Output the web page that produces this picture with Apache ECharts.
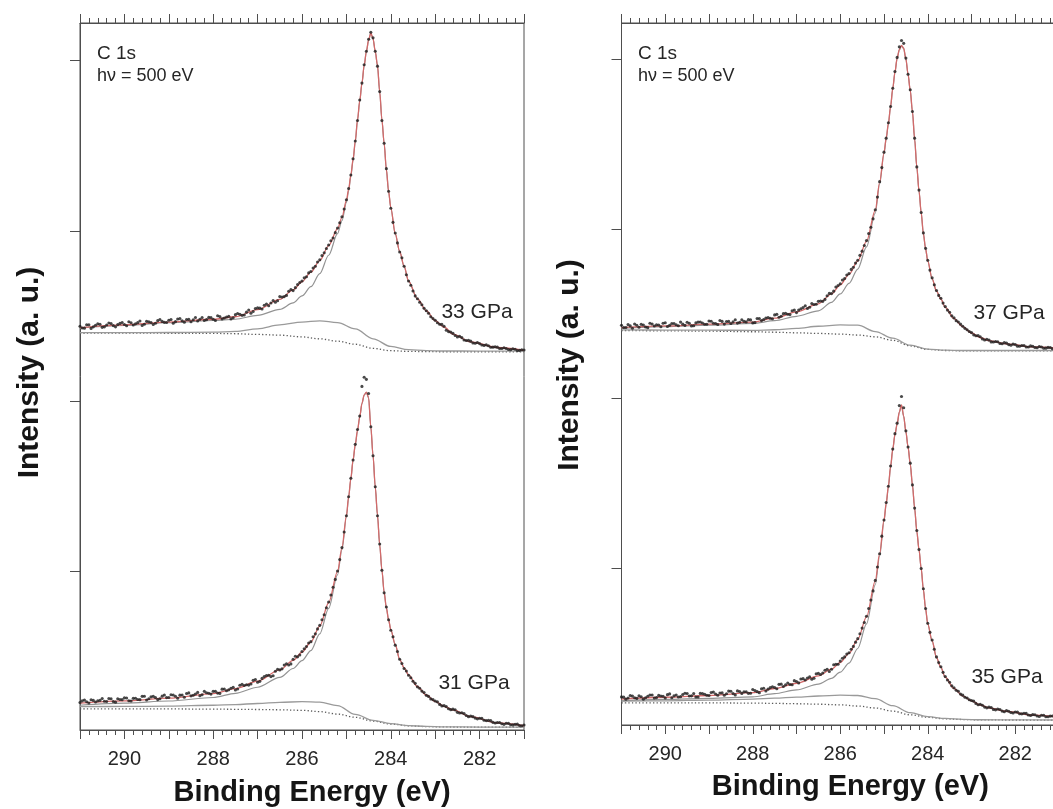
<!DOCTYPE html>
<html>
<head>
<meta charset="utf-8">
<title>C 1s XPS spectra under pressure</title>
<script src="https://cdn.jsdelivr.net/npm/echarts@6/dist/echarts.min.js"></script>
<style>
  html, body { margin: 0; padding: 0; background: #ffffff; }
  #chart { width: 1053px; height: 809px; }
</style>
</head>
<body>
<div id="chart"></div>
<script>
// Binding energies (eV) of the measured points
const dataEnergy = [
  291.0, 290.95, 290.9, 290.85, 290.8, 290.75, 290.7, 290.65, 290.6, 290.55,
  290.5, 290.45, 290.4, 290.35, 290.3, 290.25, 290.2, 290.15, 290.1, 290.05,
  290.0, 289.95, 289.9, 289.85, 289.8, 289.75, 289.7, 289.65, 289.6, 289.55,
  289.5, 289.45, 289.4, 289.35, 289.3, 289.25, 289.2, 289.15, 289.1, 289.05,
  289.0, 288.95, 288.9, 288.85, 288.8, 288.75, 288.7, 288.65, 288.6, 288.55,
  288.5, 288.45, 288.4, 288.35, 288.3, 288.25, 288.2, 288.15, 288.1, 288.05,
  288.0, 287.95, 287.9, 287.85, 287.8, 287.75, 287.7, 287.65, 287.6, 287.55,
  287.5, 287.45, 287.4, 287.35, 287.3, 287.25, 287.2, 287.15, 287.1, 287.05,
  287.0, 286.95, 286.9, 286.85, 286.8, 286.75, 286.7, 286.65, 286.6, 286.55,
  286.5, 286.45, 286.4, 286.35, 286.3, 286.25, 286.2, 286.15, 286.1, 286.05, 286.0,
  285.95, 285.9, 285.85, 285.8, 285.75, 285.7, 285.65, 285.6, 285.55, 285.5,
  285.45, 285.4, 285.35, 285.3, 285.25, 285.2, 285.15, 285.1, 285.05, 285.0,
  284.95, 284.9, 284.85, 284.8, 284.75, 284.7, 284.65, 284.6, 284.55, 284.5,
  284.45, 284.4, 284.35, 284.3, 284.25, 284.2, 284.15, 284.1, 284.05, 284.0,
  283.95, 283.9, 283.85, 283.8, 283.75, 283.7, 283.65, 283.6, 283.55, 283.5,
  283.45, 283.4, 283.35, 283.3, 283.25, 283.2, 283.15, 283.1, 283.05,
  283.0, 282.95, 282.9, 282.85, 282.8, 282.75, 282.7, 282.65, 282.6, 282.55,
  282.5, 282.45, 282.4, 282.35, 282.3, 282.25, 282.2, 282.15, 282.1, 282.05,
  282.0, 281.95, 281.9, 281.85, 281.8, 281.75, 281.7, 281.65, 281.6, 281.55,
  281.5, 281.45, 281.4, 281.35, 281.3, 281.25, 281.2, 281.15, 281.1, 281.05, 281.0
];

// Binding energies (eV) of the fitted envelope and of the main component
const curveEnergy = [
  291, 290, 289, 288, 287.5, 287, 286.5, 286.2, 286, 285.8, 285.6, 285.4, 285.2, 285.1,
  285.0, 284.95, 284.9, 284.85, 284.8, 284.75, 284.7, 284.65, 284.6, 284.55, 284.5,
  284.45, 284.4, 284.35, 284.3, 284.25, 284.2, 284.15, 284.1, 284.05, 284.0,
  283.9, 283.8, 283.7, 283.6, 283.4, 283.2, 283.0, 282.8, 282.6, 282.2, 281.6, 281.0
];

// Binding energies (eV) of the minor component and of the background
const componentEnergy = [291, 290, 289, 288, 287.5, 287, 286.5, 286, 285.6, 285.2, 284.8, 284.4, 284, 283.6, 283.2, 282.8, 282, 281];

// Intensity axis tick positions (arbitrary units, spectra offset vertically)
const intensityTicks = [22.4, 46.5, 70.6, 94.8];

// ---- 33 GPa ----
const counts33 = [
  57.1, 56.87, 56.84, 57.31, 57.33, 56.8, 57.02, 57.24, 57.46, 57.38,
  56.95, 57.02, 57.29, 57.56, 57.48, 57.2, 57.02, 57.34, 57.51, 57.63,
  57.35, 57.17, 57.74, 57.61, 57.28, 57.45, 57.62, 57.84, 57.21, 57.38,
  57.8, 57.72, 57.64, 57.36, 57.53, 57.9, 58.07, 57.79, 57.66, 57.63,
  57.95, 58.07, 57.54, 57.76, 58.13, 58.2, 57.87, 57.69, 58.06, 58.08,
  57.75, 58.02, 58.34, 57.86, 58.08, 58.35, 57.92, 58.04, 58.36, 58.33,
  58.1, 57.92, 58.6, 58.47, 58.15, 58.28, 58.42, 58.51, 58.15, 58.3,
  58.75, 58.92, 58.8, 58.65, 58.7, 59.1, 59.4, 58.95, 59.2, 59.62,
  59.7, 59.67, 59.55, 60.07, 60.25, 60.0, 60.4, 60.75, 60.5, 60.72,
  61.3, 61.25, 61.3, 61.47, 62.05, 62.3, 62.15, 62.57, 63.0, 63.3, 63.5,
  63.95, 64.1, 64.65, 64.85, 65.35, 65.6, 66.2, 66.5, 67.1, 67.5,
  68.1, 68.6, 69.2, 69.6, 70.35, 71.0, 71.75, 72.6, 73.7, 75.0,
  76.6, 78.5, 80.8, 83.3, 86.2, 89.1, 91.5, 94.1, 96.0, 97.7,
  98.7, 97.9, 96.0, 93.9, 90.3, 86.2, 83.0, 79.4, 76.2, 73.8,
  71.8, 70.3, 68.9, 67.6, 66.8, 65.6, 64.4, 63.5, 62.9, 62.1,
  61.4, 61.0, 60.5, 60.15, 59.65, 59.3, 58.95, 58.45, 58.2,
  57.95, 57.6, 57.4, 57.37, 57.1, 56.55, 56.35, 56.3, 56.1, 55.8,
  55.6, 55.7, 55.5, 55.16, 55.1, 55.11, 55.0, 54.73, 54.7, 54.8,
  54.65, 54.45, 54.4, 54.48, 54.35, 54.13, 54.15, 54.2, 54.15, 53.95,
  53.95, 54.07, 53.95, 53.82, 53.8, 53.93, 53.85, 53.68, 53.7, 53.79, 53.75
];
const fit33 = [
  56.9, 57.3, 57.7, 58.1, 58.45, 59.45, 60.9, 62.25, 63.4, 64.75, 66.4, 68.5, 70.9, 72.5,
  74.9, 76.5, 78.5, 80.7, 83.3, 86.3, 89.0, 91.5, 94.0, 96.0, 97.6,
  98.6, 97.8, 96.0, 94.0, 90.3, 86.3, 83.0, 79.3, 76.2, 73.9,
  70.2, 67.7, 65.6, 63.5, 61.0, 59.3, 57.9, 57.0, 56.0, 54.9, 54.1, 53.7
];
const main33 = [
  56.85, 57.23, 57.6, 57.92, 58.1, 58.65, 59.5, 60.4, 61.4, 62.7, 64.55, 67.15, 70.2, 72.05,
  74.6, 76.26, 78.3, 80.53, 83.16, 86.18, 88.9, 91.41, 93.92, 95.93, 97.54,
  98.54, 97.75, 95.95, 93.95, 90.25, 86.25, 82.95, 79.25, 76.15, 73.85,
  70.15, 67.65, 65.55, 63.45, 60.96, 59.26, 57.86, 56.96, 55.96, 54.86, 54.06, 53.66
];
const minor33 = [56.2, 56.21, 56.22, 56.28, 56.37, 56.75, 57.3, 57.7, 57.88, 57.62, 56.73, 55.33, 54.25, 53.79, 53.66, 53.61, 53.6, 53.6];
const background33 = [56.15, 56.14, 56.12, 56.1, 56.05, 55.95, 55.85, 55.6, 55.33, 55.0, 54.56, 53.98, 53.65, 53.56, 53.52, 53.5, 53.5, 53.5];

// ---- 31 GPa ----
const counts31 = [
  3.9, 4.12, 4.23, 4.0, 3.81, 4.28, 4.19, 3.96, 4.12, 4.19,
  4.45, 4.07, 4.03, 4.45, 4.41, 4.03, 3.94, 4.41, 4.32, 4.29,
  4.55, 4.52, 4.14, 4.11, 4.48, 4.5, 4.32, 4.29, 4.76, 4.78,
  4.25, 4.42, 4.69, 4.76, 4.58, 4.3, 4.42, 4.79, 4.96, 4.58,
  4.6, 4.98, 4.95, 4.78, 4.5, 4.93, 4.96, 4.64, 5.17, 5.25,
  4.83, 4.91, 5.09, 5.32, 4.85, 4.99, 5.47, 5.26, 5.19, 5.08,
  5.47, 5.47, 5.22, 5.18, 5.78, 5.8, 5.56, 5.68, 5.9, 6.03,
  5.65, 5.79, 6.32, 6.46, 6.3, 6.4, 6.35, 6.51, 7.02, 7.14,
  6.75, 6.88, 7.3, 7.55, 7.7, 7.75, 7.55, 7.68, 8.3, 8.6,
  8.5, 8.65, 9.2, 9.38, 9.2, 9.35, 10.0, 10.43, 10.35, 10.6, 11.1,
  11.5, 11.8, 12.3, 12.5, 13.2, 13.6, 14.3, 14.8, 15.6, 16.3,
  17.3, 18.1, 19.1, 20.2, 21.3, 22.5, 24.1, 25.8, 28.0, 30.3,
  33.0, 35.6, 38.2, 40.4, 42.5, 44.4, 48.6, 49.9, 49.6, 47.6,
  42.9, 38.8, 34.4, 30.3, 26.3, 22.6, 19.4, 17.4, 15.6, 14.1,
  13.2, 12.0, 11.1, 10.0, 9.4, 8.7, 8.35, 7.75, 7.4, 6.9,
  6.6, 6.1, 5.9, 5.5, 5.3, 4.9, 4.75, 4.4, 4.3,
  4.1, 3.98, 3.62, 3.41, 3.45, 3.31, 3.0, 2.88, 2.95, 2.85,
  2.5, 2.4, 2.45, 2.34, 2.05, 1.89, 1.98, 1.89, 1.68, 1.58,
  1.67, 1.65, 1.38, 1.33, 1.36, 1.33, 1.08, 0.98, 1.07, 1.06,
  0.88, 0.8, 0.95, 0.94, 0.74, 0.72, 0.8, 0.83, 0.64, 0.6, 0.7
];
const fit31 = [
  3.8, 4.12, 4.5, 5.15, 5.85, 6.9, 8.5, 9.85, 11.0, 12.45, 14.7, 18.0, 22.4, 25.8,
  30.3, 33.0, 35.6, 38.2, 40.4, 42.4, 44.3, 46.2, 47.4, 47.8, 47.0,
  42.9, 38.8, 34.4, 30.4, 26.2, 22.6, 19.5, 17.3, 15.6, 14.2,
  12.1, 10.0, 8.8, 7.8, 6.15, 4.95, 4.05, 3.35, 2.85, 1.9, 1.0, 0.6
];
const main31 = [
  3.5, 3.79, 4.1, 4.6, 5.18, 6.05, 7.44, 8.7, 9.8, 11.23, 13.6, 17.2, 21.95, 25.5,
  30.1, 32.84, 35.47, 38.09, 40.31, 42.32, 44.23, 46.14, 47.35, 47.76, 46.96,
  42.86, 38.76, 34.36, 30.36, 26.16, 22.56, 19.46, 17.26, 15.56, 14.16,
  12.06, 9.96, 8.77, 7.77, 6.12, 4.92, 4.02, 3.32, 2.82, 1.87, 0.97, 0.57
];
const minor31 = [3.3, 3.33, 3.38, 3.5, 3.6, 3.75, 3.92, 4.0, 3.95, 3.45, 2.2, 1.37, 0.9, 0.63, 0.5, 0.45, 0.42, 0.4];
const background31 = [3.0, 3.0, 2.98, 2.95, 2.93, 2.9, 2.86, 2.78, 2.6, 2.25, 1.8, 1.27, 0.85, 0.6, 0.48, 0.43, 0.4, 0.38];

// ---- 37 GPa ----
const counts37 = [
  56.95, 56.62, 56.63, 57.04, 56.85, 56.52, 57.13, 56.94, 56.65, 57.07,
  56.98, 56.69, 56.6, 57.22, 57.13, 56.84, 57.0, 56.97, 56.73, 57.24,
  57.3, 56.77, 56.93, 57.19, 57.2, 57.02, 56.88, 57.39, 57.1, 56.92,
  57.38, 57.24, 56.85, 56.87, 57.28, 57.39, 57.4, 57.27, 57.08, 57.09,
  57.55, 57.52, 57.23, 57.2, 57.06, 57.63, 57.49, 57.11, 57.47, 57.49,
  57.2, 57.42, 57.73, 57.25, 57.36, 57.73, 57.5, 57.42, 57.74, 57.71,
  57.28, 57.32, 57.91, 57.91, 57.61, 57.77, 57.98, 58.04, 57.95, 57.86,
  58.42, 58.5, 58.08, 58.22, 58.6, 58.64, 58.52, 58.46, 59.0, 59.1,
  58.75, 59.1, 59.3, 59.46, 59.72, 59.34, 59.5, 60.03, 59.9, 59.93,
  60.35, 60.4, 60.35, 60.63, 61.15, 61.48, 61.45, 61.8, 62.4, 62.6, 62.85,
  63.4, 63.6, 64.1, 64.3, 64.9, 65.2, 65.8, 66.2, 66.9, 67.5,
  68.3, 69.0, 70.0, 70.9, 72.1, 73.4, 75.2, 77.4, 79.4, 81.6,
  83.6, 85.8, 88.1, 90.7, 93.1, 95.1, 96.6, 97.5, 97.1, 95.0,
  92.7, 90.5, 87.4, 83.6, 79.5, 76.2, 73.0, 70.1, 67.9, 66.2,
  64.8, 63.7, 62.7, 61.9, 61.2, 60.8, 60.1, 59.6, 59.1, 58.8,
  58.3, 58.0, 57.6, 57.4, 57.1, 56.8, 56.5, 56.3, 56.05,
  55.9, 55.58, 55.45, 55.47, 55.3, 55.0, 54.85, 54.95, 54.85, 54.57,
  54.55, 54.64, 54.6, 54.35, 54.3, 54.47, 54.4, 54.19, 54.1, 54.26,
  54.2, 53.97, 53.95, 54.07, 54.05, 53.85, 53.85, 54.0, 53.95, 53.77,
  53.75, 53.92, 53.85, 53.66, 53.68, 53.79, 53.78, 53.6, 53.62, 53.75, 53.7
];
const fit37 = [
  56.6, 56.85, 57.1, 57.4, 57.95, 58.85, 60.0, 61.4, 62.7, 64.2, 66.1, 68.9, 73.3, 77.3,
  81.5, 83.6, 85.7, 88.1, 90.7, 93.0, 95.0, 96.2, 96.8, 96.4, 94.9,
  92.7, 90.4, 87.4, 83.5, 79.5, 76.1, 73.0, 70.0, 67.9, 66.1,
  63.6, 61.8, 60.7, 59.5, 57.9, 56.75, 55.85, 55.2, 54.75, 54.3, 53.87, 53.65
];
const main37 = [
  56.5, 56.75, 56.95, 57.2, 57.6, 58.22, 59.0, 60.2, 61.4, 62.9, 64.95, 68.1, 72.9, 77.05,
  81.35, 83.48, 85.6, 88.02, 90.63, 92.94, 94.95, 96.16, 96.76, 96.36, 94.86,
  92.66, 90.36, 87.36, 83.46, 79.46, 76.06, 72.96, 69.96, 67.86, 66.06,
  63.56, 61.76, 60.67, 59.47, 57.88, 56.73, 55.83, 55.18, 54.73, 54.28, 53.85, 53.63
];
const minor37 = [56.28, 56.26, 56.25, 56.22, 56.3, 56.5, 56.8, 57.0, 56.95, 56.05, 55.1, 54.1, 53.55, 53.4, 53.35, 53.35, 53.35, 53.35];
const background37 = [56.2, 56.15, 56.1, 56.02, 55.95, 55.87, 55.78, 55.68, 55.55, 55.3, 54.8, 54.0, 53.5, 53.35, 53.3, 53.3, 53.3, 53.3];

// ---- 35 GPa ----
const counts35 = [
  4.0, 3.97, 3.68, 3.84, 4.2, 4.12, 3.88, 3.79, 4.15, 4.02,
  3.68, 3.89, 4.1, 4.27, 4.28, 3.84, 3.9, 4.22, 4.13, 4.09,
  3.85, 4.32, 4.43, 3.89, 4.15, 4.27, 3.98, 4.04, 4.35, 4.52,
  4.48, 4.14, 4.15, 4.47, 3.98, 3.99, 4.5, 4.47, 4.38, 4.24,
  4.2, 4.62, 4.69, 4.41, 4.23, 4.55, 4.57, 4.24, 4.46, 4.83,
  4.8, 4.47, 4.29, 4.86, 4.78, 4.5, 4.72, 4.74, 4.51, 4.53,
  5.05, 4.9, 4.75, 4.61, 5.17, 5.23, 4.84, 5.11, 5.32, 5.44,
  5.35, 5.17, 5.79, 5.82, 5.49, 5.72, 5.99, 5.77, 5.74, 6.32,
  6.2, 6.0, 6.55, 6.6, 6.4, 6.7, 6.85, 6.51, 6.67, 7.29,
  7.35, 7.2, 7.4, 7.8, 7.95, 7.63, 7.95, 8.58, 8.65, 8.65, 9.1,
  9.5, 9.7, 10.1, 10.3, 10.8, 11.2, 11.8, 12.3, 13.0, 13.8,
  14.6, 15.5, 16.6, 17.8, 19.1, 20.6, 22.5, 24.4, 26.9, 29.2,
  31.7, 34.0, 36.9, 39.3, 41.5, 43.0, 45.5, 46.8, 45.2, 41.9,
  39.6, 37.3, 34.2, 30.9, 27.7, 25.0, 22.3, 19.4, 16.6, 14.5,
  13.2, 12.1, 10.8, 9.7, 8.9, 8.3, 7.5, 6.9, 6.4, 6.1,
  5.6, 5.3, 4.95, 4.8, 4.4, 4.25, 3.95, 3.85, 3.6,
  3.5, 3.4, 3.08, 2.88, 2.95, 2.82, 2.55, 2.44, 2.55, 2.5,
  2.22, 2.16, 2.27, 2.21, 1.98, 1.88, 2.05, 1.96, 1.78, 1.71,
  1.86, 1.84, 1.6, 1.59, 1.68, 1.65, 1.42, 1.35, 1.48, 1.46,
  1.28, 1.21, 1.38, 1.38, 1.18, 1.17, 1.27, 1.29, 1.1, 1.08, 1.2
];
const fit35 = [
  3.7, 3.95, 4.2, 4.6, 5.2, 5.95, 7.0, 7.95, 8.9, 10.2, 12.2, 15.4, 20.5, 24.4,
  29.2, 31.6, 34.0, 36.8, 39.3, 41.4, 42.9, 44.6, 45.6, 44.0, 41.8,
  39.6, 37.2, 34.2, 30.9, 27.6, 25.0, 22.3, 19.3, 16.6, 14.4,
  12.0, 9.6, 8.2, 6.8, 5.2, 4.15, 3.45, 2.85, 2.45, 1.95, 1.4, 1.15
];
const main35 = [
  3.45, 3.65, 3.8, 4.02, 4.46, 5.01, 5.83, 6.65, 7.52, 8.8, 10.9, 14.4, 19.95, 24.05,
  28.98, 31.43, 33.86, 36.69, 39.21, 41.32, 42.83, 44.54, 45.55, 43.96, 41.76,
  39.56, 37.16, 34.16, 30.86, 27.56, 24.96, 22.26, 19.26, 16.56, 14.36,
  11.96, 9.56, 8.17, 6.77, 5.17, 4.13, 3.43, 2.84, 2.44, 1.94, 1.39, 1.14
];
const minor35 = [3.4, 3.45, 3.55, 3.7, 3.82, 3.97, 4.13, 4.25, 4.2, 3.75, 2.75, 1.75, 1.2, 0.93, 0.8, 0.75, 0.72, 0.71];
const background35 = [3.15, 3.15, 3.15, 3.12, 3.08, 3.03, 2.96, 2.87, 2.7, 2.42, 1.98, 1.45, 1.1, 0.88, 0.78, 0.73, 0.71, 0.7];

const pressureLabels = ['33 GPa', '31 GPa', '37 GPa', '35 GPa'];

// ---------------------------------------------------------------------------
const FONT = "'Liberation Sans', Arial, Helvetica, sans-serif";
const AXIS_COLOR = '#4e4e4e';
const TEXT_COLOR = '#262626';

function pairs(xs, ys) {
  return xs.map((x, i) => [x, ys[i]]);
}

function spectrumSeries(gridIndex, counts, fit, main, minor, background) {
  const axes = { xAxisIndex: gridIndex * 2, yAxisIndex: gridIndex };
  return [
    Object.assign({
      type: 'line', data: pairs(componentEnergy, background), showSymbol: false,
      smooth: 0.35, smoothMonotone: 'x', z: 1, silent: true,
      lineStyle: { color: '#5a5a5a', width: 1.3, type: [1.3, 2.2] }
    }, axes),
    Object.assign({
      type: 'line', data: pairs(componentEnergy, minor), showSymbol: false,
      smooth: 0.35, smoothMonotone: 'x', z: 2, silent: true,
      lineStyle: { color: '#9a9a9a', width: 1.3 }
    }, axes),
    Object.assign({
      type: 'line', data: pairs(curveEnergy, main), showSymbol: false,
      smooth: 0.3, smoothMonotone: 'x', z: 2, silent: true,
      lineStyle: { color: '#939393', width: 1.2 }
    }, axes),
    Object.assign({
      type: 'line', data: pairs(curveEnergy, fit), showSymbol: false,
      smooth: 0.3, smoothMonotone: 'x', z: 3, silent: true,
      lineStyle: { color: '#d36a6a', width: 1.3 }
    }, axes),
    Object.assign({
      type: 'scatter', data: pairs(dataEnergy, counts), symbol: 'circle',
      symbolSize: 3.1, z: 4, silent: true,
      itemStyle: { color: '#1c1c1c' }
    }, axes)
  ];
}

function energyAxes(gridIndex, nameGap) {
  const lineStyle = { color: AXIS_COLOR, width: 1 };
  const common = {
    type: 'value', gridIndex: gridIndex, min: 281, max: 291, interval: 1, inverse: true,
    axisLine: { show: true, onZero: false, lineStyle: lineStyle },
    axisTick: { show: true, length: 9, lineStyle: lineStyle },
    minorTick: { show: true, splitNumber: 5, length: 5, lineStyle: lineStyle },
    splitLine: { show: false },
    minorSplitLine: { show: false }
  };
  return [
    Object.assign({}, common, {
      position: 'bottom',
      axisLabel: {
        show: true, margin: 19, fontSize: 20, color: TEXT_COLOR, fontFamily: FONT,
        formatter: function (v) { const r = Math.round(v); return r % 2 === 0 ? String(r) : ''; }
      },
      name: 'Binding Energy (eV)', nameLocation: 'middle', nameGap: nameGap,
      nameTextStyle: { fontSize: 29, fontWeight: 'bold', color: '#151515', fontFamily: FONT, padding: [0, 0, 0, 20] }
    }),
    Object.assign({}, common, {
      position: 'top',
      axisLabel: { show: false }
    })
  ];
}

function intensityAxis(gridIndex, nameGap, shift) {
  const lineStyle = { color: AXIS_COLOR, width: 1 };
  return {
    type: 'value', gridIndex: gridIndex, min: 0, max: 100, position: 'left',
    axisLine: { show: true, onZero: false, lineStyle: lineStyle },
    axisTick: { show: true, length: 10, customValues: intensityTicks, lineStyle: lineStyle },
    axisLabel: { show: false, customValues: intensityTicks },
    splitLine: { show: false },
    name: 'Intensity (a. u.)', nameLocation: 'middle', nameGap: nameGap, nameRotate: 90,
    nameTextStyle: { fontSize: 30, fontWeight: 'bold', color: '#151515', fontFamily: FONT, padding: [0, 0, 0, shift] }
  };
}

function label(text, x, y, size) {
  return {
    type: 'text', x: x, y: y, silent: true,
    style: { text: text, font: size + 'px ' + FONT, fill: TEXT_COLOR, textAlign: 'left', textVerticalAlign: 'middle' }
  };
}
function centeredLabel(text, x, y, size) {
  return {
    type: 'text', x: x, y: y, silent: true,
    style: { text: text, font: size + 'px ' + FONT, fill: TEXT_COLOR, textAlign: 'center', textVerticalAlign: 'middle' }
  };
}

const option = {
  backgroundColor: '#ffffff',
  animation: false,
  grid: [
    { left: 80, top: 23, width: 444, height: 707, show: true, borderColor: AXIS_COLOR, borderWidth: 1, backgroundColor: 'transparent', outerBoundsMode: 'none' },
    { left: 621.5, top: 23, width: 437.5, height: 702, show: true, borderColor: AXIS_COLOR, borderWidth: 1, backgroundColor: 'transparent', outerBoundsMode: 'none' }
  ],
  xAxis: energyAxes(0, 48).concat(energyAxes(1, 47)),
  yAxis: [intensityAxis(0, 35, 8), intensityAxis(1, 37, 18)],
  series: []
    .concat(spectrumSeries(0, counts33, fit33, main33, minor33, background33))
    .concat(spectrumSeries(0, counts31, fit31, main31, minor31, background31))
    .concat(spectrumSeries(1, counts37, fit37, main37, minor37, background37))
    .concat(spectrumSeries(1, counts35, fit35, main35, minor35, background35)),
  graphic: [
    label('C 1s', 97, 54, 19),
    label('h\u03bd = 500 eV', 97, 76, 18),
    label('C 1s', 638, 54, 19),
    label('h\u03bd = 500 eV', 638, 76, 18),
    centeredLabel(pressureLabels[0], 477, 312, 21),
    centeredLabel(pressureLabels[1], 474, 683, 21),
    centeredLabel(pressureLabels[2], 1009, 313, 21),
    centeredLabel(pressureLabels[3], 1007, 677, 21)
  ]
};

const chart = echarts.init(document.getElementById('chart'), null, { renderer: 'canvas' });
chart.setOption(option);
</script>
</body>
</html>
